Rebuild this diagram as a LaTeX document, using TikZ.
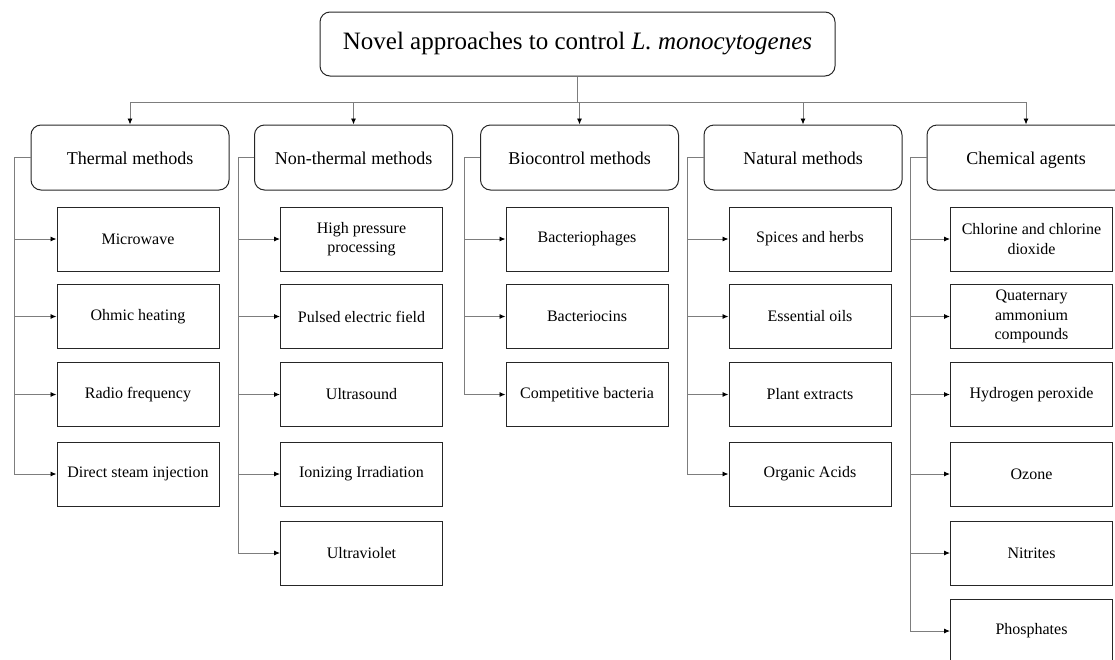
\documentclass[tikz,border=0pt]{standalone}
\usepackage{fontspec}
\setmainfont{Liberation Serif}
\usetikzlibrary{arrows.meta}
\definecolor{linkgray}{RGB}{125,125,125}
\tikzset{
  rootbox/.style={draw=black!85, line width=1pt, rounded corners=10pt,
    minimum width=515pt, minimum height=64pt, font=\fontsize{25}{30}\selectfont},
  groupbox/.style={draw=black!85, line width=1pt, rounded corners=10pt,
    minimum width=198pt, minimum height=65pt, text height=18pt, text depth=4pt,
    font=\fontsize{18}{22}\selectfont},
  leafbox/.style={draw=black!85, line width=1pt, minimum width=162pt,
    minimum height=64pt, align=center, inner sep=2pt, font=\fontsize{16}{19.5}\selectfont},
  link/.style={draw=linkgray, line width=0.9pt},
  linkarrow/.style={link, -{Latex[black,length=6pt,width=5pt]}},
}

\begin{document}
\begin{tikzpicture}[x=1pt,y=-1pt]
\useasboundingbox (0,0) rectangle (1115,659);

\node (root) at (577.5,44) [rootbox] {Novel approaches to control \textit{L. monocytogenes}};

\node (thermal) at (130,157.5) [groupbox] {Thermal methods};
\node (nonthermal) at (353.5,157.5) [groupbox] {Non-thermal methods};
\node (bio) at (579.5,157.5) [groupbox] {Biocontrol methods};
\node (natural) at (803,157.5) [groupbox] {Natural methods};
\node (chemical) at (1026,157.5) [groupbox] {Chemical agents};

\coordinate (bus) at (577.5,102);
\draw [link] (root.south) -- (bus);
\foreach \g in {thermal,nonthermal,bio,natural,chemical}
  \draw [linkarrow] (bus) -| (\g.north);

% thermal
\node (micro) at (138,239) [leafbox] {Microwave};
\node (ohmic) at (138,316.5) [leafbox] {Ohmic heating};
\node (radio) at (138,394.5) [leafbox] {Radio frequency};
\node (steam) at (138,474) [leafbox] {Direct steam injection};

% non-thermal
\node (hpp) at (361.5,239) [leafbox] {High pressure\\processing};
\node (pef) at (361.5,316.5) [leafbox] {Pulsed electric field};
\node (usound) at (361.5,394.5) [leafbox] {Ultrasound};
\node (irrad) at (361.5,474) [leafbox] {Ionizing Irradiation};
\node (uv) at (361.5,553) [leafbox] {Ultraviolet};

% biocontrol
\node (phage) at (587,239) [leafbox] {Bacteriophages};
\node (bactocin) at (587,316.5) [leafbox] {Bacteriocins};
\node (compet) at (587,394.5) [leafbox] {Competitive bacteria};

% natural
\node (spice) at (810,239) [leafbox] {Spices and herbs};
\node (oils) at (810,316.5) [leafbox] {Essential oils};
\node (plant) at (810,394.5) [leafbox] {Plant extracts};
\node (acids) at (810,474) [leafbox] {Organic Acids};

% chemical
\node (chlorine) at (1031.5,239) [leafbox] {Chlorine and chlorine\\dioxide};
\node (quat) at (1031.5,316.5) [leafbox] {Quaternary\\ammonium\\compounds};
\node (hperox) at (1031.5,394.5) [leafbox] {Hydrogen peroxide};
\node (ozone) at (1031.5,474) [leafbox] {Ozone};
\node (nitrite) at (1031.5,553) [leafbox] {Nitrites};
\node (phosph) at (1031.5,631) [leafbox] {Phosphates};

\foreach \g/\l in {thermal/micro, thermal/ohmic, thermal/radio, thermal/steam,
    nonthermal/hpp, nonthermal/pef, nonthermal/usound, nonthermal/irrad, nonthermal/uv,
    bio/phage, bio/bactocin, bio/compet,
    natural/spice, natural/oils, natural/plant, natural/acids,
    chemical/chlorine, chemical/quat, chemical/hperox, chemical/ozone,
    chemical/nitrite, chemical/phosph}
  \draw [linkarrow] (\g.west) -- ++(-16,0) |- (\l.west);
\end{tikzpicture}
\end{document}
